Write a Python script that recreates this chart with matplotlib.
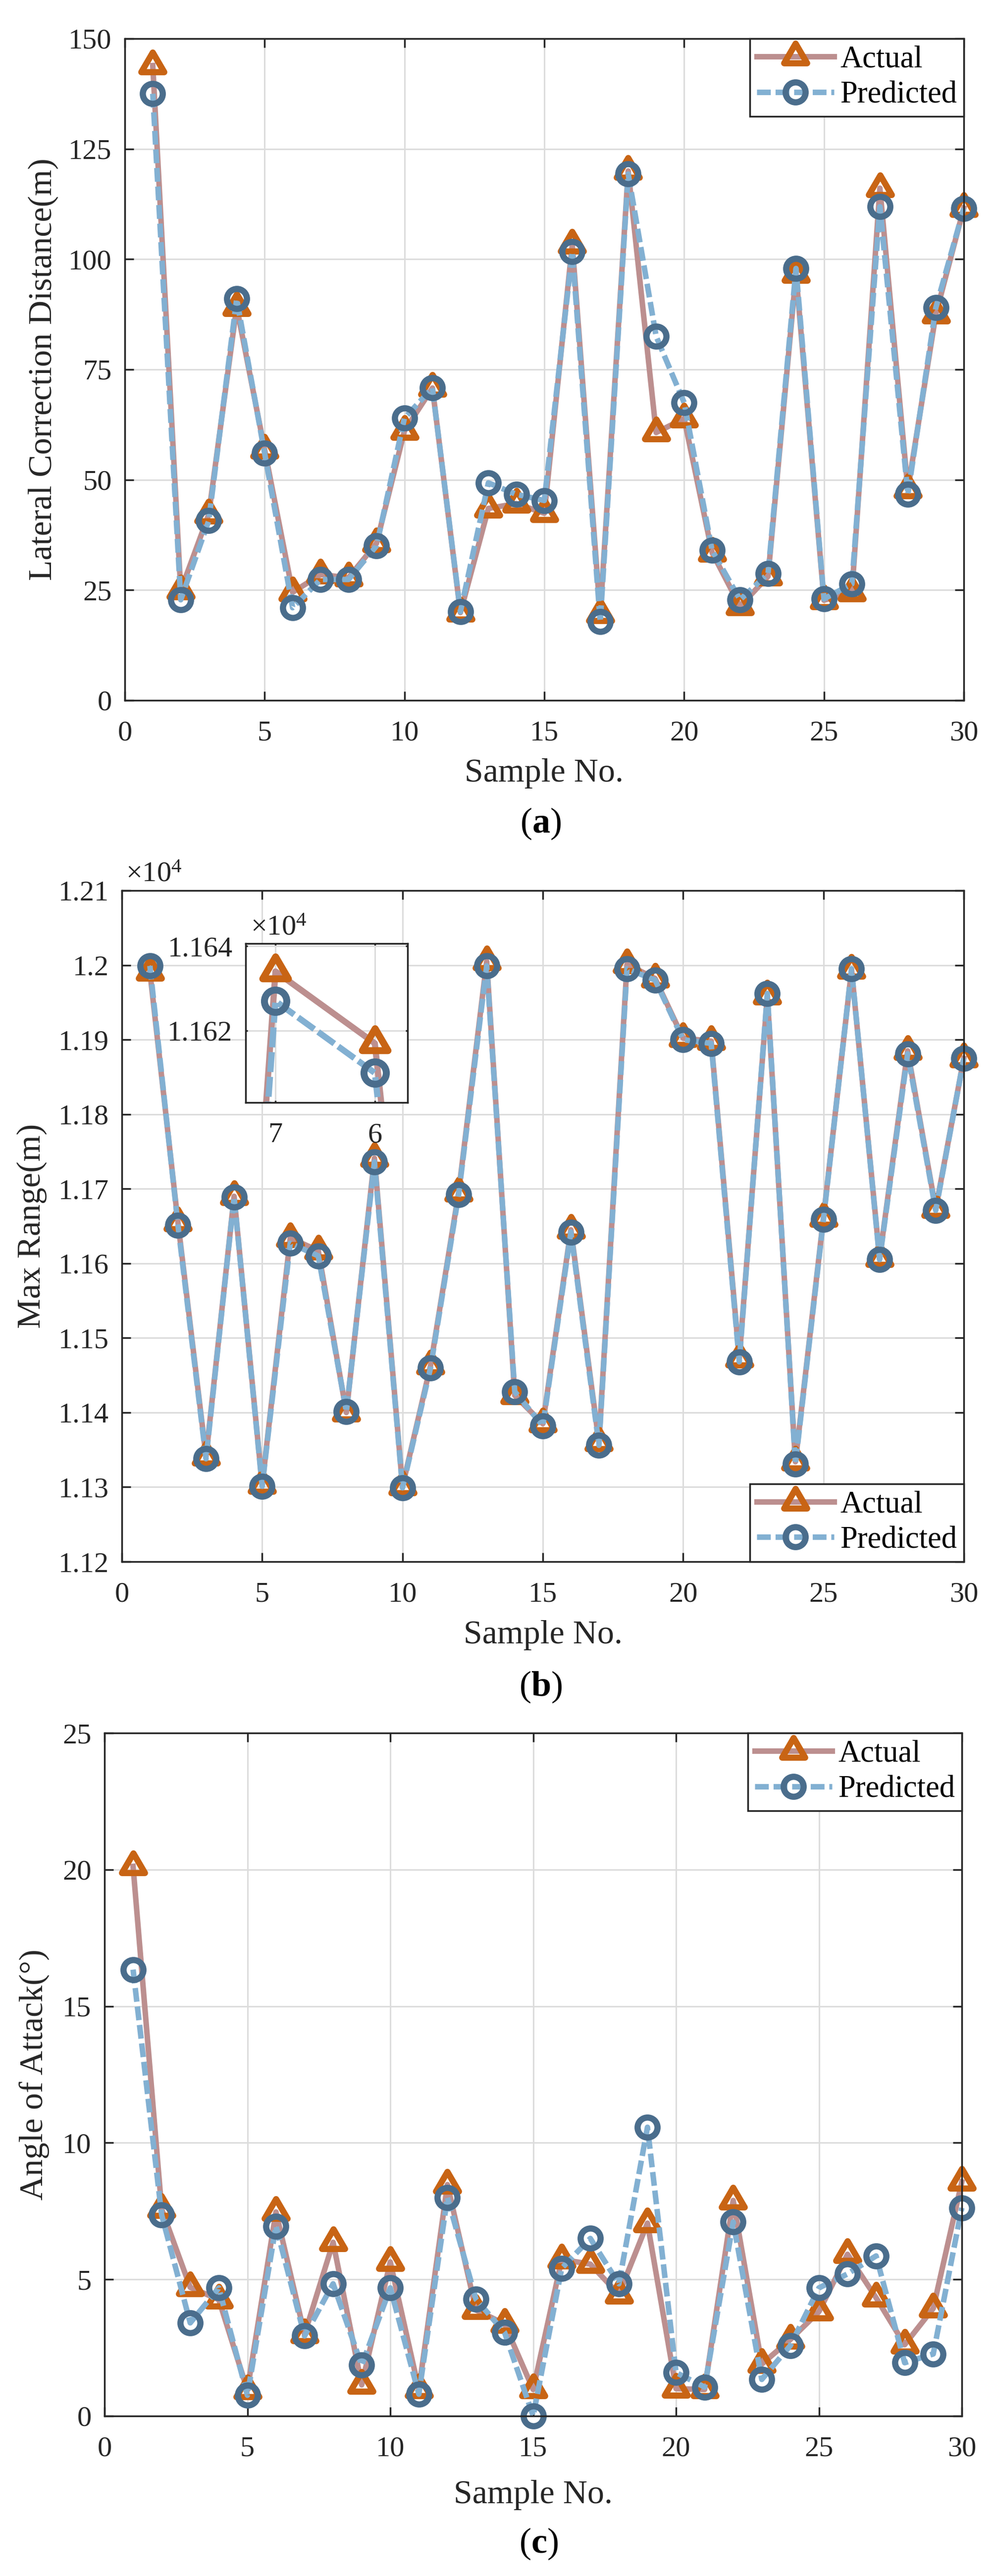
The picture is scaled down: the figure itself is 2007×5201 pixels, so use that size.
import matplotlib

matplotlib.use("Agg")
import matplotlib.pyplot as plt
from matplotlib.markers import MarkerStyle
from matplotlib.path import Path
from matplotlib.ticker import FixedLocator, FuncFormatter, MultipleLocator

# ---- data ------------------------------------------------------------------
sample = list(range(1, 31))

lateral_actual = [143.9, 24.9, 42.1, 89.2, 56.8, 24.5, 28.5, 27.8, 35.6, 61.1,
                  70.8, 19.9, 43.5, 44.6, 42.4, 103.3, 19.5, 120.0, 60.7, 63.9,
                  33.5, 21.3, 28.1, 96.7, 22.7, 24.5, 116.1, 47.8, 87.5, 111.6]
lateral_pred = [137.5, 22.8, 40.7, 91.0, 56.0, 21.0, 27.4, 27.4, 35.0, 64.0,
                70.8, 20.1, 49.3, 46.7, 45.3, 101.7, 17.8, 119.3, 82.5, 67.5,
                34.0, 22.8, 28.7, 97.9, 23.0, 26.4, 111.9, 46.7, 89.0, 111.5]

range_actual = [11991, 11655, 11341, 11690, 11303, 11634, 11617, 11400, 11741, 11301,
                11463, 11695, 12005, 11423, 11385, 11645, 11360, 12001, 11982, 11902,
                11898, 11472, 11959, 11334, 11661, 11994, 11607, 11885, 11673, 11875]
range_pred = [11999, 11651, 11338, 11689, 11301, 11627, 11610, 11401, 11736, 11299,
              11460, 11692, 11999, 11428, 11382, 11642, 11356, 11995, 11980, 11900,
              11895, 11468, 11962, 11331, 11659, 11995, 11605, 11881, 11671, 11875]

aoa_actual = [20.12, 7.57, 4.71, 4.26, 0.95, 7.47, 2.99, 6.36, 1.14, 5.64,
              0.97, 8.47, 3.88, 3.37, 0.97, 5.73, 5.56, 4.45, 7.06, 1.0,
              0.97, 7.89, 1.9, 2.8, 3.82, 5.92, 4.33, 2.61, 3.94, 8.57]
aoa_pred = [16.34, 7.36, 3.41, 4.69, 0.76, 6.95, 2.93, 4.84, 1.86, 4.69,
            0.8, 8.0, 4.27, 3.06, 0.0, 5.41, 6.5, 4.84, 10.57, 1.59,
            1.06, 7.1, 1.34, 2.58, 4.69, 5.2, 5.86, 1.95, 2.27, 7.62]

inset_xticks = [6, 7]
inset_xticklabels = ["7", "6"]   # as printed in the source figure
inset_yticks = [11620, 11640]

# ---- style -------------------------------------------------------------------
INK = "#262626"
GRID = "#DCDCDC"
ACT_LINE = "#BC8F8F"
ACT_MK = "#C86414"
PRED_LINE = "#82B0D2"
PRED_MK = "#4A6D8C"

plt.rcParams["font.family"] = ["Liberation Serif", "DejaVu Serif"]
plt.rcParams["mathtext.fontset"] = "custom"
plt.rcParams["mathtext.rm"] = "Liberation Serif"
plt.rcParams["mathtext.it"] = "Liberation Serif:italic"
plt.rcParams["mathtext.bf"] = "Liberation Serif:bold"
plt.rcParams["lines.scale_dashes"] = False

# MATLAB-like triangle: centroid on the data point, a bit wider than tall
TRI = MarkerStyle(
    Path([(0, 0.5), (-0.4386, -0.25), (0.4386, -0.25), (0, 0)],
         [Path.MOVETO, Path.LINETO, Path.LINETO, Path.CLOSEPOLY]),
    joinstyle="miter",
)

W, H = 2007, 5201
fig = plt.figure(figsize=(W / 100, H / 100), dpi=100)


def px_axes(left, top, right, bottom):
    """Axes placed by pixel box (origin top-left)."""
    return fig.add_axes([left / W, 1 - bottom / H, (right - left) / W, (bottom - top) / H])


def style_axes(ax, tick_len=13):
    ax.tick_params(which="both", direction="in", top=True, right=True,
                   length=tick_len, width=2.5, color=INK, labelcolor=INK, labelsize=42)
    ax.tick_params(axis="x", pad=29)
    ax.tick_params(axis="y", pad=19)
    for s in ax.spines.values():
        s.set_linewidth(2.5)
        s.set_color(INK)
    ax.grid(True, color=GRID, lw=2.2)
    ax.set_axisbelow(True)


def draw_pair(ax, actual, predicted, k=1.0, clip=False, dash=(20, 7)):
    ax.plot(sample, actual, color=ACT_LINE, lw=8 * k, marker=TRI, ms=38 * k,
            mec=ACT_MK, mfc="none", mew=9 * k, label="Actual", clip_on=clip)
    ax.plot(sample, predicted, color=PRED_LINE, lw=8 * k, ls="--", dashes=dash,
            marker="o", ms=29 * k, mec=PRED_MK, mfc="none", mew=9 * k,
            label="Predicted", clip_on=clip)


def add_legend(ax, loc):
    leg = ax.legend(loc=loc, fontsize=45, frameon=True, fancybox=False, framealpha=1,
                    edgecolor=INK, borderaxespad=0, borderpad=0.22, labelspacing=0.22,
                    handlelength=2.5, handletextpad=0.2, numpoints=1)
    leg.get_frame().set_linewidth(2.5)


def labels(ax, box, ylabel, xlab_y, ylab_x):
    left, top, right, bottom = box
    ax.set_xlabel("Sample No.", fontsize=49, color=INK)
    ax.set_ylabel(ylabel, fontsize=49, color=INK)
    ax.xaxis.label.set_va("center")
    ax.yaxis.label.set_va("center")
    ax.xaxis.set_label_coords(0.5, -(xlab_y - bottom) / (bottom - top))
    ax.yaxis.set_label_coords(-(left - ylab_x) / (right - left), 0.5)


e4 = FuncFormatter(lambda v, _: f"{v / 1e4:g}")

# ---- (a) lateral correction distance ------------------------------------------
box_a = (252, 78, 1946, 1414)
ax_a = px_axes(*box_a)
draw_pair(ax_a, lateral_actual, lateral_pred)
ax_a.set_xlim(0, 30)
ax_a.set_ylim(0, 150)
ax_a.xaxis.set_major_locator(MultipleLocator(5))
ax_a.yaxis.set_major_locator(MultipleLocator(25))
style_axes(ax_a)
labels(ax_a, box_a, "Lateral Correction Distance(m)", 1562, 87)
add_legend(ax_a, "upper right")

# ---- (b) max range -------------------------------------------------------------
box_b = (246, 1798, 1946, 3153)
ax_b = px_axes(*box_b)
draw_pair(ax_b, range_actual, range_pred)
ax_b.set_xlim(0, 30)
ax_b.set_ylim(11200, 12100)
ax_b.xaxis.set_major_locator(MultipleLocator(5))
ax_b.yaxis.set_major_locator(MultipleLocator(100))
ax_b.yaxis.set_major_formatter(e4)
style_axes(ax_b)
labels(ax_b, box_b, "Max Range(m)", 3302, 64)
add_legend(ax_b, "lower right")
ax_b.text(0.005, 1.014, r"$\times10^{4}$", transform=ax_b.transAxes,
          ha="left", va="baseline", fontsize=42, color=INK)

# zoomed inset around samples 6-7
box_in = (496, 1905, 823, 2226)
ax_in = px_axes(*box_in)
ax_in.set_facecolor("white")
draw_pair(ax_in, range_actual, range_pred, k=1.12, clip=True, dash=(29, 7))
ax_in.set_xlim(5.70, 7.33)
ax_in.set_ylim(11603, 11640.6)
ax_in.xaxis.set_major_locator(FixedLocator(inset_xticks))
ax_in.set_xticklabels(inset_xticklabels)
ax_in.yaxis.set_major_locator(FixedLocator(inset_yticks))
ax_in.yaxis.set_major_formatter(e4)
style_axes(ax_in, tick_len=3)
ax_in.text(0.03, 1.056, r"$\times10^{4}$", transform=ax_in.transAxes,
           ha="left", va="baseline", fontsize=42, color=INK)

# ---- (c) angle of attack -------------------------------------------------------
box_c = (211, 3499, 1942, 4878)
ax_c = px_axes(*box_c)
draw_pair(ax_c, aoa_actual, aoa_pred)
ax_c.set_xlim(0, 30)
ax_c.set_ylim(0, 25)
ax_c.xaxis.set_major_locator(MultipleLocator(5))
ax_c.yaxis.set_major_locator(MultipleLocator(5))
style_axes(ax_c)
labels(ax_c, box_c, "Angle of Attack(°)", 5037, 70)
add_legend(ax_c, "upper right")

# ---- panel tags ----------------------------------------------------------------
for tag, x, y in [("a", 1092, 1663), ("b", 1092, 3406), ("c", 1088, 5136)]:
    fig.text(x / W, 1 - y / H, f"($\\mathbf{{{tag}}}$)", ha="center", va="center",
             fontsize=52, color="black")

fig.savefig("out.png", dpi=100, facecolor="white")
